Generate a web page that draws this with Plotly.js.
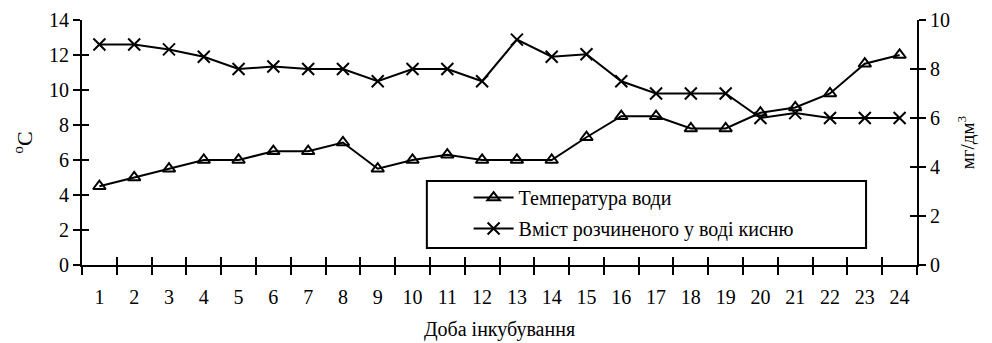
<!DOCTYPE html>
<html><head><meta charset="utf-8">
<script src="https://cdn.plot.ly/plotly-3.0.1.min.js"></script>
<style>body{margin:0;background:#fff}#c{width:992px;height:343px}</style>
</head><body><div id="c"></div>
<script>
const days = [1,2,3,4,5,6,7,8,9,10,11,12,13,14,15,16,17,18,19,20,21,22,23,24];
const dayLabels = days.map(String);
const temperature = [4.5,5,5.5,6,6,6.5,6.5,7,5.5,6,6.3,6,6,6,7.3,8.5,8.5,7.8,7.8,8.7,9.0,9.8,11.5,12];
const oxygen = [9.0,9.0,8.8,8.5,8.0,8.1,8.0,8.0,7.5,8.0,8.0,7.5,9.2,8.5,8.6,7.5,7.0,7.0,7.0,6.0,6.2,6.0,6.0,6.0];
const boundaries = days.map(d => d - 0.5).concat([24.5]);
const tempTicks = [0,2,4,6,8,10,12,14];
const oxyTicks = [0,2,4,6,8,10];

const FAM = 'Liberation Serif, Times New Roman, serif';
const font = {family:FAM, color:'#000', size:20};
const traces = [
  {x:days, y:temperature, name:'Температура води', type:'scatter', mode:'lines+markers', legendgroup:'a',
   line:{color:'#000', width:2}, marker:{symbol:'triangle-up-open', size:11, color:'#000', line:{width:2, color:'#000'}},
   xaxis:'x', yaxis:'y'},
  {x:days, y:oxygen, name:'Вміст розчиненого у воді кисню', type:'scatter', mode:'lines+markers', legendgroup:'b',
   line:{color:'#000', width:2}, marker:{symbol:'x-thin-open', size:12, color:'#000', line:{width:2, color:'#000'}},
   xaxis:'x', yaxis:'y2'}
];
const xr = [0.5, 24.5];
const layout = {
  width:992, height:343, margin:{l:82, r:75, t:20, b:78},
  paper_bgcolor:'#fff', plot_bgcolor:'#fff', font:font, showlegend:true,
  xaxis:{range:xr, tickvals:boundaries, ticks:'outside', ticklen:8, tickwidth:2, tickcolor:'#000',
    showticklabels:false, showline:true, linewidth:2, linecolor:'#000', showgrid:false, zeroline:false,
    title:{text:'Доба інкубування', font:{family:FAM, size:20, color:'#000'}, standoff:48}},
  xaxis2:{range:xr, overlaying:'x', anchor:'y', side:'bottom', tickvals:days, ticktext:dayLabels,
    ticks:'outside', ticklen:14, tickcolor:'rgba(0,0,0,0)', showline:false, showgrid:false, zeroline:false,
    tickfont:{family:FAM, size:20, color:'#000'}},
  xaxis3:{range:xr, overlaying:'x', anchor:'y', side:'bottom', tickvals:boundaries, ticks:'inside', ticklen:8, tickwidth:2,
    tickcolor:'#000', showticklabels:false, showline:false, showgrid:false, zeroline:false},
  yaxis:{range:[0,14], tickvals:tempTicks, ticks:'outside', ticklen:7, tickwidth:2, tickcolor:'#000',
    showline:true, linewidth:2, linecolor:'#000', showgrid:false, zeroline:false,
    tickfont:{family:FAM, size:20, color:'#000'},
    title:{text:'<sup>o</sup>C', font:{family:FAM, size:22, color:'#000'}, standoff:10}},
  yaxis3:{range:[0,14], overlaying:'y', anchor:'x', side:'left', tickvals:tempTicks, ticks:'inside', ticklen:7, tickwidth:2,
    tickcolor:'#000', showticklabels:false, showgrid:false, zeroline:false},
  yaxis2:{range:[0,10], overlaying:'y', side:'right', anchor:'x', tickvals:oxyTicks, ticks:'outside', ticklen:7, tickwidth:2,
    tickcolor:'#000', showline:true, linewidth:2, linecolor:'#000', showgrid:false, zeroline:false,
    tickfont:{family:FAM, size:20, color:'#000'},
    title:{text:'мг/дм<sup>3</sup>', font:{family:FAM, size:19, color:'#000'}, standoff:12}},
  yaxis4:{range:[0,10], overlaying:'y', side:'right', anchor:'x', tickvals:oxyTicks, ticks:'inside', ticklen:7, tickwidth:2,
    tickcolor:'#000', showticklabels:false, showgrid:false, zeroline:false},
  shapes:[{type:'rect', xref:'paper', yref:'paper', x0:0.413, x1:0.939, y0:0.069, y1:0.343,
    line:{color:'#000', width:2}, fillcolor:'#fff', layer:'above'}],
  legend:{x:0.463, y:0.355, xanchor:'left', yanchor:'top', bgcolor:'rgba(0,0,0,0)', borderwidth:0,
    font:{family:FAM, size:20, color:'#000'}, tracegroupgap:2, itemwidth:40}
};
traces.push({x:[1], y:[0], xaxis:'x2', yaxis:'y', mode:'markers', marker:{opacity:0}, showlegend:false, hoverinfo:'skip'});
traces.push({x:[1], y:[0], xaxis:'x3', yaxis:'y3', mode:'markers', marker:{opacity:0}, showlegend:false, hoverinfo:'skip'});
traces.push({x:[1], y:[0], xaxis:'x', yaxis:'y4', mode:'markers', marker:{opacity:0}, showlegend:false, hoverinfo:'skip'});
Plotly.newPlot('c', traces, layout, {displayModeBar:false, staticPlot:true});
</script></body></html>
